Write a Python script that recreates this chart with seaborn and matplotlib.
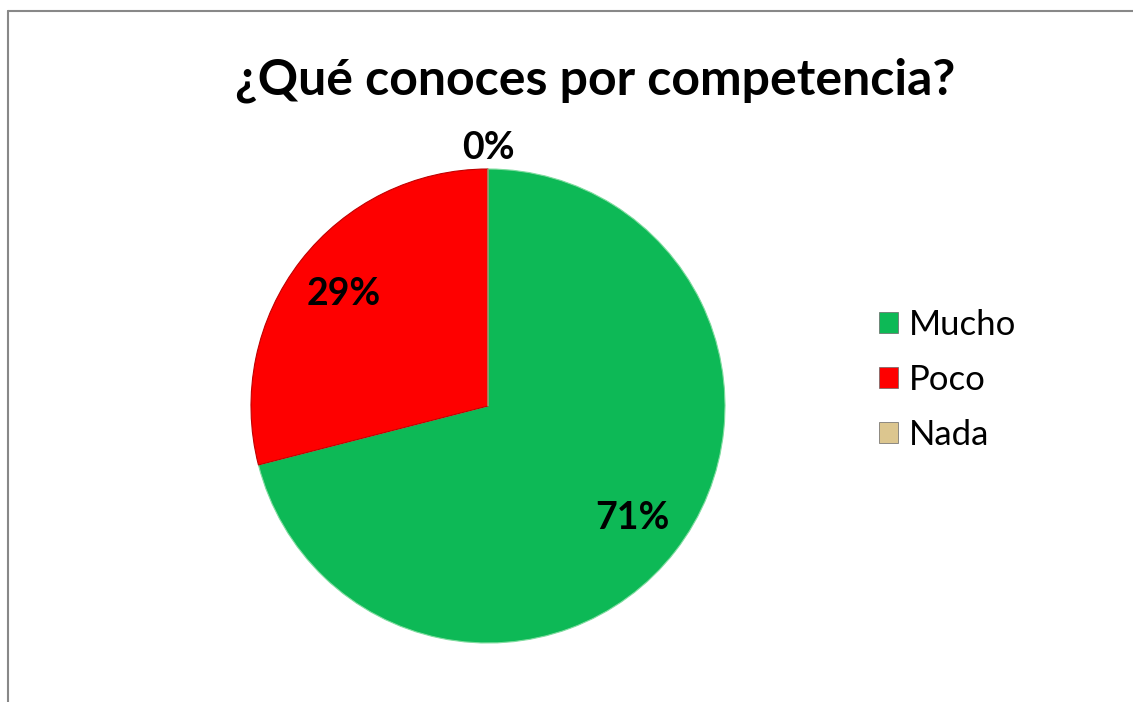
import numpy as np
import matplotlib
matplotlib.use('Agg')
import matplotlib.pyplot as plt
import matplotlib.patches as mpatches
import matplotlib.lines as mlines
import seaborn as sns

sns.set_style('white')
plt.rcParams['font.family'] = ['Lato', 'DejaVu Sans']
plt.rcParams['text.color'] = 'black'

title = '¿Qué conoces por competencia?'
categories = ['Mucho', 'Poco', 'Nada']
percent = [71, 29, 0]
colors = ['#0DB956', '#FE0000', '#DCC68F']

fig = plt.figure(figsize=(11.33, 7.02), dpi=100)

# pie axes, centred where the original pie sits
cx, cy, r = 488 / 1133, 1 - 406 / 702, 237
w, h = 2 * r / 1133, 2 * r / 702
ax = fig.add_axes([cx - w / 2, cy - h / 2, w, h])

wedges, texts, autotexts = ax.pie(
    percent, colors=colors, startangle=90, counterclock=False,
    autopct=lambda p: f'{p:.0f}%', pctdistance=0.77,
    wedgeprops=dict(edgecolor='#7fdc9f', linewidth=0.8),
    textprops=dict(fontsize=27, fontweight='bold', color='black'))
wedges[1].set_edgecolor('#c00000')
ax.set_xlim(-1, 1)
ax.set_ylim(-1, 1)
ax.set_aspect('equal')
ax.axis('off')

# zero slices: label sits just outside the rim
for val, t in zip(percent, autotexts):
    if val == 0:
        t.set_position((0, 1.09))

fig.text(595 / 1133, 1 - 80 / 702, title, ha='center', va='center',
         fontsize=36, fontweight='bold', color='black')

handles = [mpatches.Patch(facecolor=c, edgecolor='#666666', linewidth=0.5) for c in colors]
fig.legend(handles, categories, loc='center left',
           bbox_to_anchor=(862 / 1133, 1 - 380 / 702), frameon=False,
           fontsize=25, handlelength=0.55, handleheight=0.55, borderpad=0,
           handletextpad=0.3, labelspacing=0.66, labelcolor='black')

# chart frame lines (top and left)
fig.add_artist(mlines.Line2D([8 / 1133, 1], [1 - 11 / 702, 1 - 11 / 702],
                             color='#888888', linewidth=1.5))
fig.add_artist(mlines.Line2D([8 / 1133, 8 / 1133], [0, 1 - 11 / 702],
                             color='#888888', linewidth=1.5))

fig.savefig('out.png', dpi=100)
